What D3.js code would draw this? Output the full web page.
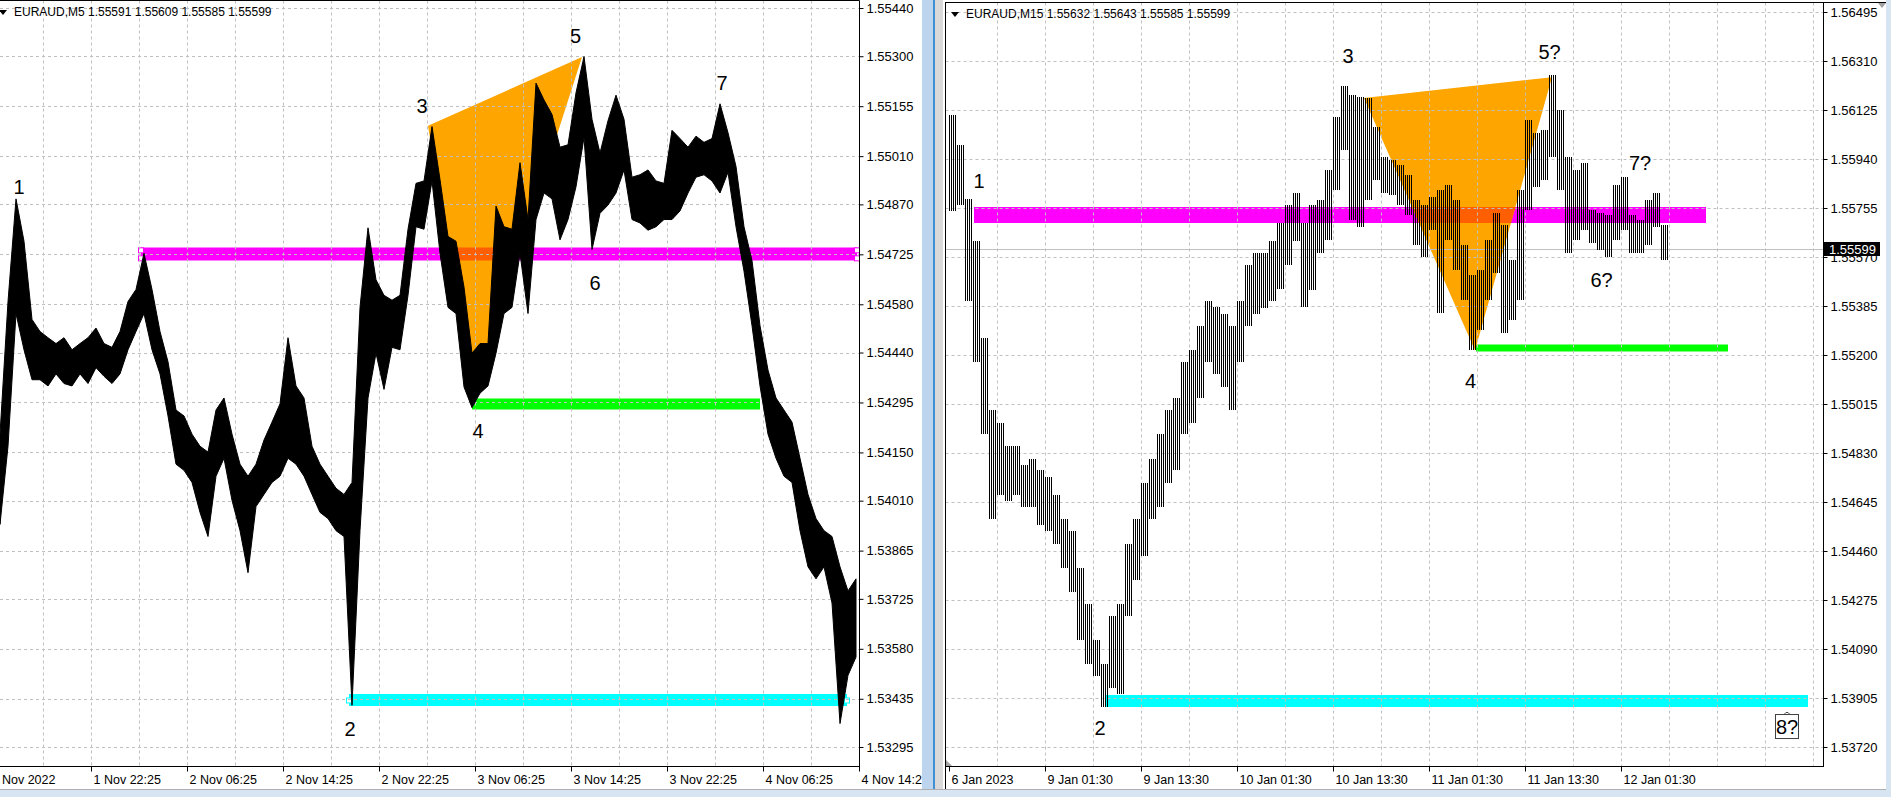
<!DOCTYPE html>
<html><head><meta charset="utf-8">
<script src="https://cdn.jsdelivr.net/npm/d3@7"></script>
<style>
html,body{margin:0;padding:0;background:#fff;}
svg{display:block;}
text{font-family:"Liberation Sans",Arial,sans-serif;}
</style></head><body>
<svg id="c" width="1891" height="797"></svg>
<script>
// ---------------- LEFT CHART DATA (EURAUD,M5) ----------------
const leftHeader = "EURAUD,M5  1.55591 1.55609 1.55585 1.55599";
const leftPriceTicks = [1.55440,1.55300,1.55155,1.55010,1.54870,1.54725,1.54580,1.54440,1.54295,1.54150,1.54010,1.53865,1.53725,1.53580,1.53435,1.53295];
const leftTimeLabels = ["1 Nov 2022","1 Nov 22:25","2 Nov 06:25","2 Nov 14:25","2 Nov 22:25","3 Nov 06:25","3 Nov 14:25","3 Nov 22:25","4 Nov 06:25","4 Nov 14:25"];
// highs / lows of consecutive 40-minute groups (8 M5 bars each)
const leftHigh = [1.54203,1.54588,1.54886,1.54763,1.54536,1.54501,1.54483,1.54466,1.54483,1.54448,
1.54466,1.54483,1.54511,1.54466,1.54455,1.54501,1.54588,1.54623,1.54728,1.54623,
1.54501,1.54413,1.54273,1.54256,1.54203,1.54168,1.54151,1.54273,1.54308,1.54203,
1.54116,1.54081,1.54116,1.54186,1.54238,1.54291,1.54483,1.54343,1.54308,1.54168,
1.54116,1.54081,1.54046,1.54028,1.54063,1.54571,1.54802,1.54651,1.54606,1.54592,
1.54606,1.54798,1.54931,1.54938,1.55096,1.54942,1.54777,1.54763,1.54630,1.54438,
1.54466,1.54466,1.54865,1.54805,1.54798,1.54991,1.54826,1.55222,1.55173,1.55131,
1.55036,1.55043,1.55194,1.55299,1.55117,1.55019,1.55113,1.55187,1.55117,1.54949,
1.54956,1.54970,1.54938,1.54931,1.55085,1.55061,1.55036,1.55068,1.55050,1.55061,
1.55162,1.55078,1.54980,1.54805,1.54707,1.54518,1.54389,1.54308,1.54273,1.54238,
1.54133,1.54028,1.53958,1.53923,1.53906,1.53818,1.53748,1.53783];
const leftLow = [1.53941,1.54168,1.54553,1.54448,1.54361,1.54361,1.54343,1.54378,1.54350,1.54343,
1.54378,1.54350,1.54396,1.54371,1.54350,1.54378,1.54448,1.54501,1.54553,1.54448,
1.54378,1.54256,1.54116,1.54098,1.54063,1.53976,1.53906,1.54081,1.54133,1.54011,
1.53923,1.53801,1.53993,1.54028,1.54063,1.54081,1.54133,1.54116,1.54081,1.54028,
1.53976,1.53958,1.53923,1.53906,1.53416,1.53923,1.54308,1.54438,1.54333,1.54455,
1.54448,1.54606,1.54805,1.54798,1.54938,1.54728,1.54571,1.54553,1.54340,1.54280,
1.54322,1.54343,1.54438,1.54553,1.54571,1.54728,1.54553,1.54826,1.54903,1.54886,
1.54767,1.54826,1.54921,1.55064,1.54739,1.54844,1.54868,1.54903,1.54970,1.54826,
1.54816,1.54795,1.54805,1.54826,1.54826,1.54851,1.54903,1.54949,1.54956,1.54938,
1.54903,1.54963,1.54805,1.54676,1.54518,1.54343,1.54203,1.54133,1.54081,1.54063,
1.53923,1.53818,1.53783,1.53818,1.53713,1.53363,1.53503,1.53556];
// levels: [startBar, endBar, price]
const leftPink  = [146, 862, 1.54725];
const leftGreen = [477, 765, 1.54290];
const leftCyan  = [354, 852, 1.53430];
const leftTriangle = [[433,1.55098],[587,1.55298],[477,1.54302]];
const leftMarkText  = ["1","2","3","4","5","6","7"];
const leftMarkBar   = [24,355,427,483,580.5,600,727];
const leftMarkPrice = [1.54899,1.53327,1.55135,1.54192,1.55338,1.54621,1.55202];

// ---------------- RIGHT CHART DATA (EURAUD,M15) ----------------
const rightHeader = "EURAUD,M15  1.55632 1.55643 1.55585 1.55599";
const rightPriceTicks = [1.56495,1.56310,1.56125,1.55940,1.55755,1.55570,1.55385,1.55200,1.55015,1.54830,1.54645,1.54460,1.54275,1.54090,1.53905,1.53720];
const rightTimeLabels = ["6 Jan 2023","9 Jan 01:30","9 Jan 13:30","10 Jan 01:30","10 Jan 13:30","11 Jan 01:30","11 Jan 13:30","12 Jan 01:30"];
// highs / lows of consecutive 1-hour groups (4 M15 bars each)
const rightHigh = [1.56106,1.55992,1.55788,1.55629,1.55263,1.54991,1.54945,1.54855,1.54855,1.54786,
1.54809,1.54764,1.54741,1.54673,1.54582,1.54537,1.54397,1.54261,1.54125,1.54034,
1.54216,1.54261,1.54488,1.54579,1.54718,1.54809,1.54900,1.54991,1.55036,1.55172,
1.55217,1.55308,1.55403,1.55380,1.55353,1.55308,1.55403,1.55539,1.55584,1.55584,
1.55629,1.55697,1.55765,1.55811,1.55697,1.55765,1.55784,1.55898,1.56098,1.56215,
1.56181,1.56174,1.56170,1.56060,1.55947,1.55936,1.55917,1.55879,1.55784,1.55765,
1.55796,1.55822,1.55841,1.55784,1.55614,1.55501,1.55520,1.55633,1.55735,1.55690,
1.55558,1.55822,1.56087,1.56038,1.56049,1.56257,1.56125,1.55947,1.55898,1.55924,
1.55747,1.55735,1.55728,1.55841,1.55871,1.55728,1.55709,1.55784,1.55811,1.55690];
const rightLow = [1.55743,1.55765,1.55403,1.55172,1.54900,1.54579,1.54673,1.54650,1.54673,1.54628,
1.54628,1.54560,1.54537,1.54488,1.54397,1.54306,1.54125,1.54034,1.53989,1.53872,
1.53944,1.53921,1.54216,1.54352,1.54443,1.54579,1.54628,1.54718,1.54764,1.54900,
1.54945,1.55036,1.55172,1.55127,1.55081,1.54991,1.55172,1.55308,1.55353,1.55376,
1.55403,1.55448,1.55539,1.55629,1.55380,1.55444,1.55584,1.55633,1.55822,1.55973,
1.55709,1.55682,1.55784,1.55860,1.55811,1.55803,1.55765,1.55728,1.55614,1.55569,
1.55671,1.55357,1.55633,1.55520,1.55406,1.55217,1.55293,1.55406,1.55508,1.55282,
1.55331,1.55406,1.55747,1.55834,1.55860,1.55947,1.55822,1.55584,1.55633,1.55671,
1.55622,1.55595,1.55569,1.55633,1.55671,1.55584,1.55584,1.55614,1.55682,1.55558];
const rightPink  = [12.5, 378.5, 1.55729];
const rightGreen = [263.5, 389.5, 1.55225];
const rightCyan  = [78, 429.5, 1.53894];
const rightTriangle = [[207.5,1.56170],[301.5,1.56249],[263,1.55217]];
const rightLastPrice = 1.55599;
const rightMarkText  = ["1","2","3","4","5?","6?","7?"];
const rightMarkBar   = [15,75.5,199.5,260.75,300.25,326.25,345.5];
const rightMarkPrice = [1.55831,1.53765,1.56302,1.55075,1.56318,1.55457,1.55898];
const rightBoxText = "8?", rightBoxBar = 419, rightBoxPrice = 1.53769;

// ---------------- DRAWING ----------------
const svg = d3.select('#c');
const defs = svg.append('defs');
svg.append('rect').attr('width',1891).attr('height',797).attr('fill','#fff');

const pat = defs.append('pattern').attr('id','stripes').attr('patternUnits','userSpaceOnUse')
  .attr('x',949).attr('y',0).attr('width',2).attr('height',4);
pat.append('rect').attr('x',0).attr('y',0).attr('width',1).attr('height',4).attr('fill','#000');

function drawPanel(o){
  const x = o.x, y = o.y;
  const g = svg.append('g');
  defs.append('clipPath').attr('id',o.id+'c').append('rect')
    .attr('x',o.px0).attr('y',o.py0).attr('width',o.px1-o.px0).attr('height',o.py1-o.py0);
  const plot = g.append('g').attr('clip-path',`url(#${o.id}c)`);

  o.levels.forEach(l=>{
    plot.append('line').attr('x1',x(l.v[0])).attr('x2',x(l.v[1]))
      .attr('y1',Math.round(y(l.v[2]))).attr('y2',Math.round(y(l.v[2])))
      .attr('stroke',l.c).attr('stroke-width',l.w);
  });
  const tri = o.tri.map(d=>[x(d[0]),y(d[1])]);
  plot.append('polygon').attr('points',tri.map(p=>p.join(',')).join(' ')).attr('fill','#FFA500');
  const pk = o.levels[0];
  defs.append('clipPath').attr('id',o.id+'ov').append('rect')
    .attr('x',x(pk.v[0])).attr('y',Math.round(y(pk.v[2]))-pk.w/2)
    .attr('width',x(pk.v[1])-x(pk.v[0])).attr('height',pk.w);
  plot.append('polygon').attr('points',tri.map(p=>p.join(',')).join(' '))
    .attr('fill','#FF5F00').attr('clip-path',`url(#${o.id}ov)`);

  (o.handles||[]).forEach(h=>{
    plot.append('rect').attr('x',h[0]-2.5).attr('y',h[1]-2.5).attr('width',5).attr('height',5)
      .attr('fill','#fff').attr('stroke',h[2]).attr('stroke-width',1);
  });

  const grid = plot.append('g').attr('stroke','#C0C0C0').attr('stroke-dasharray','3,3').attr('stroke-width',1);
  o.priceTicks.forEach(p=>{
    const yy = Math.round(y(p))+0.5;
    grid.append('line').attr('x1',o.px0).attr('x2',o.px1).attr('y1',yy).attr('y2',yy);
  });
  o.gridBars.forEach(b=>{
    const xx = Math.round(x(b))+0.5;
    grid.append('line').attr('x1',xx).attr('x2',xx).attr('y1',o.py0).attr('y2',o.py1);
  });

  if (o.lastPrice){
    const yy = Math.round(y(o.lastPrice))+0.5;
    plot.append('line').attr('x1',o.px0).attr('x2',o.px1).attr('y1',yy).attr('y2',yy)
      .attr('stroke','#C0C0C0').attr('stroke-width',1);
  }

  o.drawBars(plot);

  o.marks.forEach(m=>{
    g.append('text').attr('x',x(m[1])).attr('y',y(m[2])).attr('text-anchor','middle')
      .attr('font-size',20).attr('fill','#000').text(m[0]);
  });

  const axY = d3.axisRight(y).tickValues(o.priceTicks).tickFormat(d3.format('.5f'))
    .tickSize(4).tickSizeOuter(0).tickPadding(3);
  const ga = g.append('g').attr('transform',`translate(${o.px1},0)`).call(axY);
  ga.select('.domain').remove();
  ga.selectAll('line').attr('stroke','#000');
  ga.selectAll('text').attr('font-size',13).attr('fill','#000')
    .attr('font-family','"Liberation Sans",Arial,sans-serif');

  const axX = d3.axisBottom(x).tickValues(o.timeBars).tickFormat((d,i)=>o.timeLabels[i])
    .tickSize(5).tickSizeOuter(0);
  const gx = g.append('g').attr('transform',`translate(0,${o.py1})`).call(axX);
  gx.select('.domain').remove();
  gx.selectAll('line').attr('stroke','#000');
  gx.selectAll('text').attr('font-size',12.5).attr('fill','#000').attr('text-anchor','start')
    .attr('x',(d,i)=> i===0 ? o.firstLabelDx : 2).attr('y',9)
    .attr('font-family','"Liberation Sans",Arial,sans-serif');

  g.append('line').attr('x1',o.px1).attr('x2',o.px1).attr('y1',o.py0).attr('y2',o.py1+0.5).attr('stroke','#000');
  g.append('line').attr('x1',o.px0).attr('x2',o.px1).attr('y1',o.py1).attr('y2',o.py1).attr('stroke','#000');
  g.append('line').attr('x1',o.px0).attr('x2',o.px1).attr('y1',o.py0).attr('y2',o.py0).attr('stroke',o.topColor);

  g.append('path').attr('d',`M${o.hx},${o.hy-6}h8l-4,5z`).attr('fill','#000');
  g.append('text').attr('x',o.hx+15).attr('y',o.hy).attr('font-size',12).attr('fill','#000').text(o.header);
  return {g,x,y};
}

// Left panel
const xL = d3.scaleLinear().domain([0,864]).range([-5,859]);
const yL = d3.scaleLinear().domain([1.53295,1.55440]).range([747,8]);
drawPanel({
  id:'L', x:xL, y:yL, px0:0, px1:859.5, py0:0.5, py1:766.5, topColor:'#000',
  levels:[{v:leftPink,c:'#FF00FF',w:13},{v:leftGreen,c:'#00FF00',w:11},{v:leftCyan,c:'#00FFFF',w:12}],
  tri:leftTriangle,
  handles:[[xL(leftPink[0]),yL(leftPink[2])-4,'#FF00FF'],[xL(leftPink[0]),yL(leftPink[2])+4,'#FF00FF'],
           [xL(leftPink[1]),yL(leftPink[2])-4,'#FF00FF'],[xL(leftPink[1]),yL(leftPink[2])+4,'#FF00FF'],
           [xL(leftCyan[0]),yL(leftCyan[2]),'#00FFFF'],[xL(leftCyan[1]),yL(leftCyan[2]),'#00FFFF']],
  priceTicks:leftPriceTicks,
  gridBars:d3.range(48,864,48),
  timeBars:leftTimeLabels.map((d,i)=>i*96), timeLabels:leftTimeLabels, firstLabelDx:-4,
  marks:leftMarkText.map((t,i)=>[t,leftMarkBar[i],leftMarkPrice[i]]),
  header:leftHeader, hx:-1, hy:16,
  drawBars:(p)=>{
    const area = d3.area().x((d,i)=>xL(5+8*i)).y0(d=>yL(d[1])).y1(d=>yL(d[0])).curve(d3.curveLinear);
    const data = leftHigh.map((h,i)=>[h,leftLow[i]]);
    p.append('path').attr('d',area(data)).attr('fill','#000').attr('stroke','#000').attr('stroke-width',1);
  }
});

// Right panel
const xR = d3.scaleLinear().domain([0,437]).range([949,1823]);
const yR = d3.scaleLinear().domain([1.53720,1.56495]).range([747,12]);
drawPanel({
  id:'R', x:xR, y:yR, px0:945.5, px1:1823.5, py0:2.5, py1:766.5, topColor:'#000',
  levels:[{v:rightPink,c:'#FF00FF',w:16},{v:rightGreen,c:'#00FF00',w:7},{v:rightCyan,c:'#00FFFF',w:12}],
  tri:rightTriangle,
  priceTicks:rightPriceTicks,
  gridBars:d3.range(24,437,24),
  timeBars:rightTimeLabels.map((d,i)=>i*48), timeLabels:rightTimeLabels, firstLabelDx:2,
  marks:rightMarkText.map((t,i)=>[t,rightMarkBar[i],rightMarkPrice[i]]),
  lastPrice:rightLastPrice,
  header:rightHeader, hx:951, hy:18,
  drawBars:(p)=>{
    p.selectAll('rect.bar').data(rightHigh.map((h,i)=>[h,rightLow[i]])).enter().append('rect')
      .attr('class','bar')
      .attr('x',(d,i)=>xR(4*i)).attr('width',8)
      .attr('y',d=>Math.round(yR(d[0]))).attr('height',d=>Math.max(1,Math.round(yR(d[1]))-Math.round(yR(d[0]))))
      .attr('fill','url(#stripes)');
  }
});

// last price label on the right axis
{
  const yy = Math.round(yR(rightLastPrice));
  svg.append('rect').attr('x',1824).attr('y',yy-7).attr('width',56).attr('height',14).attr('fill','#000');
  svg.append('text').attr('x',1829).attr('y',yy+5).attr('font-size',13).attr('fill','#fff').text(d3.format('.5f')(rightLastPrice));
}
// 8? box
{
  const bx = xR(rightBoxBar), by = yR(rightBoxPrice);
  svg.append('rect').attr('x',bx-11.5).attr('y',by-19.5).attr('width',23).attr('height',24)
    .attr('fill','#fff').attr('stroke','#404040');
  svg.append('text').attr('x',bx).attr('y',by).attr('text-anchor','middle').attr('font-size',20).text(rightBoxText);
  svg.append('path').attr('d',`M${bx-3},${by-19.5}l2,-2h2l2,2`).attr('fill','none').attr('stroke','#404040');
}
svg.append('path').attr('d','M946,766l0,-6l6,6z').attr('fill','#A0A0A0');
svg.append('path').attr('d','M1878,3h8l-4,5z').attr('fill','#A0A0A0');

// window chrome
svg.append('rect').attr('x',922).attr('y',0).attr('width',11).attr('height',797).attr('fill','#BCD4EE');
svg.append('rect').attr('x',933).attr('y',0).attr('width',2).attr('height',797).attr('fill','#3F8FD2');
svg.append('rect').attr('x',935).attr('y',0).attr('width',8).attr('height',797).attr('fill','#D9D9D9');
svg.append('rect').attr('x',943).attr('y',0).attr('width',2).attr('height',790).attr('fill','#fff');
svg.append('rect').attr('x',0).attr('y',789).attr('width',1891).attr('height',8).attr('fill','#D7E4F2');
svg.append('line').attr('x1',0).attr('x2',1891).attr('y1',789.5).attr('y2',789.5).attr('stroke','#B0B0B0');
svg.append('rect').attr('x',1886).attr('y',0).attr('width',5).attr('height',797).attr('fill','#D7E4F2');
svg.append('line').attr('x1',945.5).attr('x2',945.5).attr('y1',2).attr('y2',789).attr('stroke','#000');
svg.append('line').attr('x1',945).attr('x2',1886).attr('y1',2.5).attr('y2',2.5).attr('stroke','#000');
</script>
</body></html>
